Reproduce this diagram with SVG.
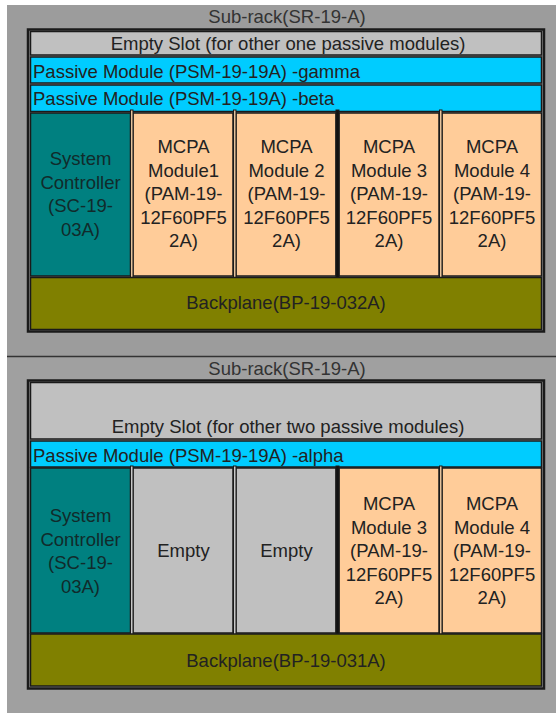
<svg xmlns="http://www.w3.org/2000/svg" width="556" height="713" viewBox="0 0 556 713">
<style>
text{font-family:"Liberation Sans",Arial,sans-serif;font-size:18.5px;fill:#222}
.c{text-anchor:middle}
.t{fill:#333}
.frame{fill:none;stroke:#1a1a1a;stroke-width:2.5}
.row{stroke:#1a1a1a;stroke-width:1.5}
.empty{fill:#c0c0c0}
.pass{fill:#00ccff}
.sc{fill:#008080}
.mcpa{fill:#ffcc99}
.bp{fill:#808000}
.sep{stroke:#1a1a1a;stroke-width:1}
.tan{fill:#e6c29a}
.gry{fill:#c8c8c8}
.blk{fill:#111}
.sctx{fill:#112b2b}
</style>
<rect x="7" y="5" width="549" height="351" fill="#9c9c9c"/>
<rect x="7" y="357" width="549" height="356" fill="#a0a0a0"/>
<line x1="7" y1="356.5" x2="556" y2="356.5" stroke="#333" stroke-width="1.5"/>

<g id="rack1">
<text class="c t" x="287" y="23">Sub-rack(SR-19-A)</text>
<rect class="frame" x="28" y="29.5" width="516" height="302"/>
<g id="r1-empty"><rect class="row empty" x="30.5" y="31.5" width="511" height="23.5"/><text class="c" x="288" y="50">Empty Slot (for other one passive modules)</text></g>
<g id="r1-gamma"><rect class="row pass" x="30.5" y="57" width="511" height="26"/><text x="33" y="78">Passive Module (PSM-19-19A) -gamma</text></g>
<g id="r1-beta"><rect class="row pass" x="30.5" y="85" width="511" height="26.5"/><text x="33" y="104.5">Passive Module (PSM-19-19A) -beta</text></g>
<g id="r1-sc"><rect class="row sc" x="30.5" y="113" width="100" height="163"/>
<text class="c sctx" x="80.5"><tspan x="80.5" y="165">System</tspan><tspan x="80.5" y="188.5">Controller</tspan><tspan x="80.5" y="212">(SC-19-</tspan><tspan x="80.5" y="235.5">03A)</tspan></text></g>
<g id="r1-m1"><rect class="row mcpa" x="133" y="113" width="100" height="163"/>
<text class="c"><tspan x="183.5" y="153">MCPA</tspan><tspan x="183.5" y="176.6">Module1</tspan><tspan x="183.5" y="200.2">(PAM-19-</tspan><tspan x="183.5" y="223.8">12F60PF5</tspan><tspan x="183.5" y="247.4">2A)</tspan></text></g>
<g id="r1-m2"><rect class="row mcpa" x="236" y="113" width="100" height="163"/>
<text class="c"><tspan x="286.5" y="153">MCPA</tspan><tspan x="286.5" y="176.6">Module 2</tspan><tspan x="286.5" y="200.2">(PAM-19-</tspan><tspan x="286.5" y="223.8">12F60PF5</tspan><tspan x="286.5" y="247.4">2A)</tspan></text></g>
<g id="r1-m3"><rect class="row mcpa" x="339" y="113" width="100" height="163"/>
<text class="c"><tspan x="389" y="153">MCPA</tspan><tspan x="389" y="176.6">Module 3</tspan><tspan x="389" y="200.2">(PAM-19-</tspan><tspan x="389" y="223.8">12F60PF5</tspan><tspan x="389" y="247.4">2A)</tspan></text></g>
<g id="r1-m4"><rect class="row mcpa" x="442" y="113" width="99.5" height="163"/>
<text class="c"><tspan x="492" y="153">MCPA</tspan><tspan x="492" y="176.6">Module 4</tspan><tspan x="492" y="200.2">(PAM-19-</tspan><tspan x="492" y="223.8">12F60PF5</tspan><tspan x="492" y="247.4">2A)</tspan></text></g>
<g id="r1-seps">
<rect class="sep tan" x="130.5" y="110" width="2.5" height="168"/>
<rect class="sep tan" x="233.5" y="110" width="2.5" height="168"/>
<rect class="sep blk" x="336" y="110" width="3" height="168"/>
<rect class="sep tan" x="439.5" y="110" width="2.5" height="168"/>
</g>
<g id="r1-bp"><rect class="row bp" x="30.5" y="277.5" width="511" height="52"/><text class="c" x="286" y="309">Backplane(BP-19-032A)</text></g>
</g>

<g id="rack2">
<text class="c t" x="287" y="375">Sub-rack(SR-19-A)</text>
<rect class="frame" x="28" y="380.5" width="516" height="308"/>
<g id="r2-empty"><rect class="row empty" x="30.5" y="382.5" width="511" height="56.5"/><text class="c" x="288" y="432.5">Empty Slot (for other two passive modules)</text></g>
<g id="r2-alpha"><rect class="row pass" x="30.5" y="441" width="511" height="26"/><text x="33" y="461.5">Passive Module (PSM-19-19A) -alpha</text></g>
<g id="r2-sc"><rect class="row sc" x="30.5" y="468" width="100" height="165"/>
<text class="c sctx"><tspan x="80.5" y="522">System</tspan><tspan x="80.5" y="545.5">Controller</tspan><tspan x="80.5" y="569">(SC-19-</tspan><tspan x="80.5" y="592.5">03A)</tspan></text></g>
<g id="r2-e1"><rect class="row empty" x="133" y="468" width="100" height="165"/><text class="c" x="183.5" y="557">Empty</text></g>
<g id="r2-e2"><rect class="row empty" x="236" y="468" width="100" height="165"/><text class="c" x="286.5" y="557">Empty</text></g>
<g id="r2-m3"><rect class="row mcpa" x="339" y="468" width="100" height="165"/>
<text class="c"><tspan x="389" y="510">MCPA</tspan><tspan x="389" y="533.5">Module 3</tspan><tspan x="389" y="557">(PAM-19-</tspan><tspan x="389" y="580.5">12F60PF5</tspan><tspan x="389" y="604">2A)</tspan></text></g>
<g id="r2-m4"><rect class="row mcpa" x="442" y="468" width="99.5" height="165"/>
<text class="c"><tspan x="492" y="510">MCPA</tspan><tspan x="492" y="533.5">Module 4</tspan><tspan x="492" y="557">(PAM-19-</tspan><tspan x="492" y="580.5">12F60PF5</tspan><tspan x="492" y="604">2A)</tspan></text></g>
<g id="r2-seps">
<rect class="sep gry" x="130.5" y="466" width="2.5" height="169"/>
<rect class="sep gry" x="233.5" y="466" width="2.5" height="169"/>
<rect class="sep blk" x="336" y="466" width="3" height="169"/>
<rect class="sep tan" x="439.5" y="466" width="2.5" height="169"/>
</g>
<g id="r2-bp"><rect class="row bp" x="30.5" y="634" width="511" height="52"/><text class="c" x="286" y="667">Backplane(BP-19-031A)</text></g>
</g>
</svg>
